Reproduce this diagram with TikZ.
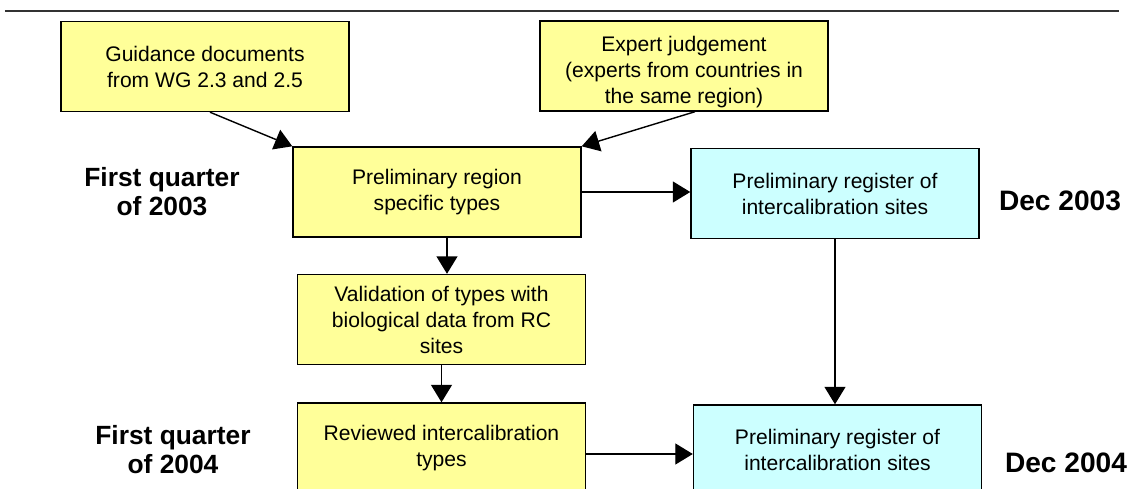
\documentclass[tikz,border=0pt]{standalone}
\usepackage{fontspec}
\setmainfont{Liberation Sans}
\usepackage{tikz}
\usetikzlibrary{positioning}
\usetikzlibrary{arrows.meta}
\definecolor{typeyellow}{HTML}{FFFF99}
\definecolor{sitecyan}{HTML}{CCFFFF}
\tikzstyle{typebox} = [rectangle, minimum width=5.76cm, minimum height=1.8cm, inner sep=0pt, text centered, draw=black, thick, fill=typeyellow, font=\fontsize{12}{14.8}\selectfont]
\tikzstyle{sitebox} = [typebox, fill=sitecyan]
\tikzstyle{period} = [align=center, font=\fontsize{15}{16.5}\selectfont\bfseries]
\tikzstyle{arrow} = [thick,-{Triangle[length=3.5mm,width=4.2mm]}]

\begin{document}
\begin{tikzpicture}[node distance=2.55cm]
        \clip (-8.74,-5.94) rectangle (14.02,3.84);
        \draw [line width=0.75pt, black!80] (-8.64,3.62) -- (13.64,3.62);

        \node (prelim) [typebox, align=center] {Preliminary region\\ specific types};
        \node (valid) [typebox, below of=prelim, xshift=0.09cm, align=center] {Validation of types with\\ biological data from RC\\ sites};
        \node (review) [typebox, below of=valid, yshift=-0.02cm, align=center] {Reviewed intercalibration\\ types};
        \node (guide) [typebox, above of=prelim, xshift=-4.64cm, yshift=-0.04cm, align=center] {Guidance documents\\ from WG 2.3 and 2.5};
        \node (expert) [typebox, above of=prelim, xshift=4.94cm, yshift=-0.03cm, align=center] {\rule{0pt}{15.6pt}Expert judgement\\ (experts from countries in\\ the same region)};

        \draw [arrow] ([xshift=0.1cm]guide.south) -- (prelim.north west);
        \draw [arrow] ([xshift=0.22cm]expert.south) -- (prelim.north east);
        \draw [arrow] ([xshift=0.2cm]prelim.south) -- ([xshift=0.2cm]prelim.south |- valid.north);
        \draw [arrow] (valid.south) -- (review.north);

        \node (regfirst) [sitebox, right of=prelim, xshift=5.41cm, yshift=-0.03cm, align=center] {Preliminary register of\\ intercalibration sites};
        \node (regsecond) [sitebox, below of=regfirst, yshift=-2.58cm, xshift=0.05cm, align=center] {Preliminary register of\\ intercalibration sites};

        \draw [arrow] (prelim.east) -- (prelim.east -| regfirst.west);
        \draw [arrow] (regfirst.south) -- (regfirst.south |- regsecond.north);
        \draw [arrow] ([yshift=-0.12cm]review.east) -- ([yshift=-0.12cm]review.east -| regsecond.west);

        \node (quarterone) [period, left of=prelim, xshift=-2.95cm] {First quarter\\ of 2003};
        \node (quartertwo) [period, left of=review, xshift=-2.82cm, yshift=-0.04cm] {First quarter\\ of 2004};
        \node (decone) [period, right of=regfirst, xshift=1.95cm, yshift=-0.15cm, font=\fontsize{16}{17}\selectfont\bfseries] {Dec 2003};
        \node (dectwo) [period, right of=regsecond, xshift=2.02cm, yshift=-0.26cm, font=\fontsize{16}{17}\selectfont\bfseries] {Dec 2004};
    \end{tikzpicture}
\end{document}
